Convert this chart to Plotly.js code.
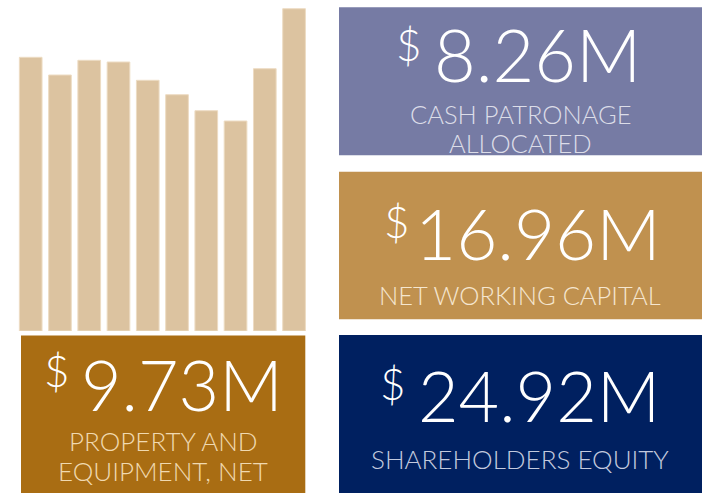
<!DOCTYPE html>
<html><head><meta charset="utf-8">
<script src="https://cdn.plot.ly/plotly-3.0.1.min.js"></script>
<style>html,body{margin:0;padding:0;background:#fff;}</style>
</head><body>
<div id="chart" style="width:704px;height:493px;"></div>
<script>
const barCategories = ["1","2","3","4","5","6","7","8","9","10"];
const barValues = [273.7, 256, 270.7, 269, 250.7, 236.3, 220.3, 210, 262.3, 322.3];

const kpiNumbers = ["8.26M", "16.96M", "9.73M", "24.92M"];
const kpiLabelLines = [["CASH PATRONAGE", "ALLOCATED"], ["NET WORKING CAPITAL"], ["PROPERTY AND", "EQUIPMENT, NET"], ["SHAREHOLDERS EQUITY"]];

const W = 704, H = 493;
const X = p => p / W;
const Y = p => 1 - p / H;

const FONT = "Lato";
const boxes = [
  {x0:339, x1:702, y0:7.3,  y1:155.3, fill:"#767BA4", lab:"#dcdde8", numX:537,   numY:57, numS:72, dR:423,   dY:46.5, labX:520.5, labY:[114.5,143], labS:25.5},
  {x0:339, x1:702, y0:171.7, y1:319.3, fill:"#C0914F", lab:"#f5e6cf", numX:537.5, numY:235, numS:71, dR:411,   dY:222.5, labX:520.3, labY:[294.5], labS:25.5},
  {x0:21,  x1:305.3, y0:335.5, y1:493, fill:"#A96D13", lab:"#f0d9b0", numX:181.5, numY:387, numS:70, dR:71,    dY:371.7, labX:163, labY:[441,470.5], labS:26},
  {x0:339, x1:702, y0:335,  y1:493,   fill:"#002060", lab:"#c3cade", numX:538.5, numY:398, numS:70, dR:406.7, dY:385, labX:519.5, labY:[458.5], labS:26}
];

const shapes = boxes.map(b => ({type:"rect", xref:"paper", yref:"paper",
  x0:X(b.x0), x1:X(b.x1), y0:Y(b.y1), y1:Y(b.y0), fillcolor:b.fill, line:{width:0}, layer:"below"}));

const annotations = [];
boxes.forEach((b,i) => {
  annotations.push({xref:"paper", yref:"paper", x:X(b.numX), y:Y(b.numY - 3), xanchor:"center", yanchor:"middle",
    text:kpiNumbers[i], showarrow:false, font:{family:FONT, size:b.numS, color:"#ffffff", weight:300}});
  annotations.push({xref:"paper", yref:"paper", x:X(b.dR + 1), y:Y(b.dY - 2), xanchor:"right", yanchor:"middle",
    text:"$", showarrow:false, font:{family:FONT, size:44, color:"#ffffff", weight:300}});
  kpiLabelLines[i].forEach((line,j) => {
    annotations.push({xref:"paper", yref:"paper", x:X(b.labX), y:Y(b.labY[j]), xanchor:"center", yanchor:"middle",
      text:line, showarrow:false, font:{family:FONT, size:b.labS, color:b.lab, weight:300}});
  });
});

const trace = {type:"bar", x:barCategories, y:barValues,
  marker:{color:"#DCC3A0", line:{color:"#eddcc3", width:1}}, hoverinfo:"none"};

const layout = {
  width:W, height:H, margin:{l:0,r:0,t:0,b:0},
  paper_bgcolor:"#ffffff", plot_bgcolor:"rgba(0,0,0,0)",
  showlegend:false, bargap:0.225,
  xaxis:{type:"category", domain:[X(16.07), X(308.7)], range:[-0.5,9.5], visible:false, fixedrange:true},
  yaxis:{domain:[Y(331), 1], range:[0,331], visible:false, fixedrange:true},
  shapes:shapes, annotations:annotations
};
Plotly.newPlot("chart", [trace], layout, {displayModeBar:false, staticPlot:true});
</script>
</body></html>
